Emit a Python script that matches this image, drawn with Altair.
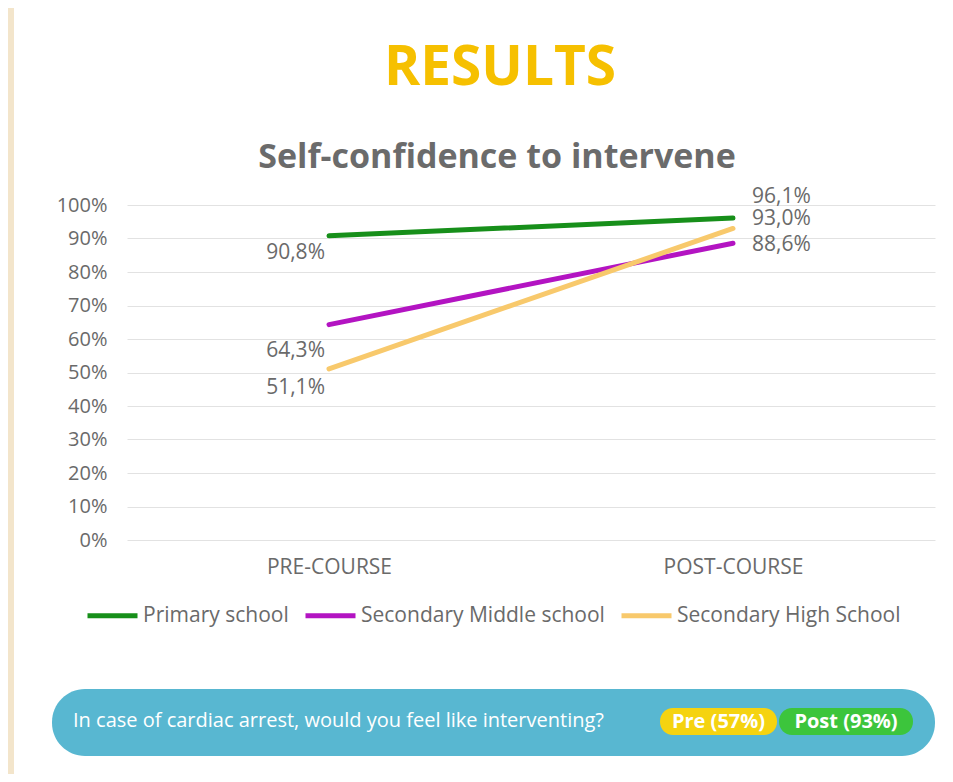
import altair as alt
import pandas as pd

stages = ["PRE-COURSE", "POST-COURSE"]
series = ["Primary school", "Secondary Middle school", "Secondary High School"]
primary = [90.8, 96.1]
middle = [64.3, 88.6]
high = [51.1, 93.0]
colors = ["#178F1A", "#B314C2", "#F8C96C"]
y_ticks = [0, 10, 20, 30, 40, 50, 60, 70, 80, 90, 100]

rows = []
for name, vals in zip(series, [primary, middle, high]):
    for st, v in zip(stages, vals):
        rows.append({"stage": st, "series": name, "value": v})
df = pd.DataFrame(rows)

GRAY = "#6a6a6a"
FONT = "Open Sans"

x_scale = alt.Scale(type="point", padding=0.5)
y_scale = alt.Scale(domain=[0, 100])

x_enc = alt.X("stage:N", sort=stages, title=None, scale=x_scale,
              axis=alt.Axis(labelAngle=0, labelFontSize=21, labelColor=GRAY, labelFont=FONT,
                            labelPadding=16, domain=False, ticks=False, grid=False))
y_enc = alt.Y("value:Q", title=None, scale=y_scale,
              axis=alt.Axis(values=y_ticks, labelExpr="datum.value + '%'", labelFontSize=20,
                            labelColor=GRAY, labelFont=FONT, labelPadding=20,
                            domain=False, ticks=False, gridColor="#e2e2e2", gridWidth=1))

lines = alt.Chart(df).mark_line(strokeWidth=5, strokeCap="round").encode(
    x=x_enc, y=y_enc,
    color=alt.Color("series:N", sort=series,
                    scale=alt.Scale(domain=series, range=colors),
                    legend=alt.Legend(title=None, orient="none", direction="horizontal",
                                      legendX=-42, legendY=383, symbolType="stroke",
                                      symbolSize=2500, symbolStrokeWidth=5,
                                      labelFontSize=21, labelColor=GRAY, labelFont=FONT,
                                      labelLimit=0, labelOffset=3, columnPadding=6,
                                      symbolOffset=0)),
)

pre_dy = {"Primary school": 17, "Secondary Middle school": 26, "Secondary High School": 19}
post_dy = {"Primary school": -21, "Secondary Middle school": 2, "Secondary High School": -9}

label_layers = []
for name in series:
    for st, align, dx, dyd in [("PRE-COURSE", "right", -4, pre_dy), ("POST-COURSE", "left", 19, post_dy)]:
        label_layers.append(
            alt.Chart(df).transform_filter(
                (alt.datum.series == name) & (alt.datum.stage == st)
            ).transform_calculate(
                lbl="replace(format(datum.value, '.1f'), '.', ',') + '%'"
            ).mark_text(align=align, baseline="middle", dx=dx, dy=dyd[name],
                        fontSize=21, color=GRAY, font=FONT).encode(
                x=x_enc, y=y_enc, text="lbl:N")
        )

one = pd.DataFrame({"k": [0]})

beige = alt.Chart(one).mark_rect(color="#F3E5CB").encode(
    x=alt.value(-119), x2=alt.value(-113), y=alt.value(-197), y2=alt.value(569))

title = alt.Chart(one).mark_text(align="center", baseline="middle", color="#F6C000",
                                 fontSize=55, fontWeight="bold", font=FONT).encode(
    x=alt.value(373), y=alt.value(-137), text=alt.value("RESULTS"))
subtitle = alt.Chart(one).mark_text(align="center", baseline="middle", color="#6b6b6b",
                                    fontSize=34, fontWeight="bold", font=FONT).encode(
    x=alt.value(370), y=alt.value(-47), text=alt.value("Self-confidence to intervene"))

banner = alt.Chart(one).mark_rect(color="#58B7D1", cornerRadius=33).encode(
    x=alt.value(-75), x2=alt.value(808), y=alt.value(484), y2=alt.value(551))
banner_text = alt.Chart(one).mark_text(align="left", baseline="middle", color="white",
                                       fontSize=20, font=FONT).encode(
    x=alt.value(-54), y=alt.value(516),
    text=alt.value("In case of cardiac arrest, would you feel like interventing?"))
pre_pill = alt.Chart(one).mark_rect(color="#F5D310", cornerRadius=13).encode(
    x=alt.value(533), x2=alt.value(650), y=alt.value(503), y2=alt.value(530))
post_pill = alt.Chart(one).mark_rect(color="#3CC53C", cornerRadius=13).encode(
    x=alt.value(652), x2=alt.value(786), y=alt.value(503), y2=alt.value(530))
pre_text = alt.Chart(one).mark_text(align="center", baseline="middle", color="white",
                                    fontSize=20, fontWeight="bold", font=FONT).encode(
    x=alt.value(591.5), y=alt.value(516.5), text=alt.value("Pre (57%)"))
post_text = alt.Chart(one).mark_text(align="center", baseline="middle", color="white",
                                     fontSize=20, fontWeight="bold", font=FONT).encode(
    x=alt.value(719), y=alt.value(516.5), text=alt.value("Post (93%)"))

chart = alt.layer(
    beige, title, subtitle, lines, *label_layers, banner, banner_text,
    pre_pill, post_pill, pre_text, post_text
).properties(
    width=808, height=335,
    padding={"left": 119, "top": 197, "right": 10, "bottom": 234},
    autosize=alt.AutoSizeParams(type="none"),
).configure(background="white").configure_view(stroke="transparent", strokeWidth=0)

chart.save("out.html", embed_options={"renderer": "svg", "actions": False})
